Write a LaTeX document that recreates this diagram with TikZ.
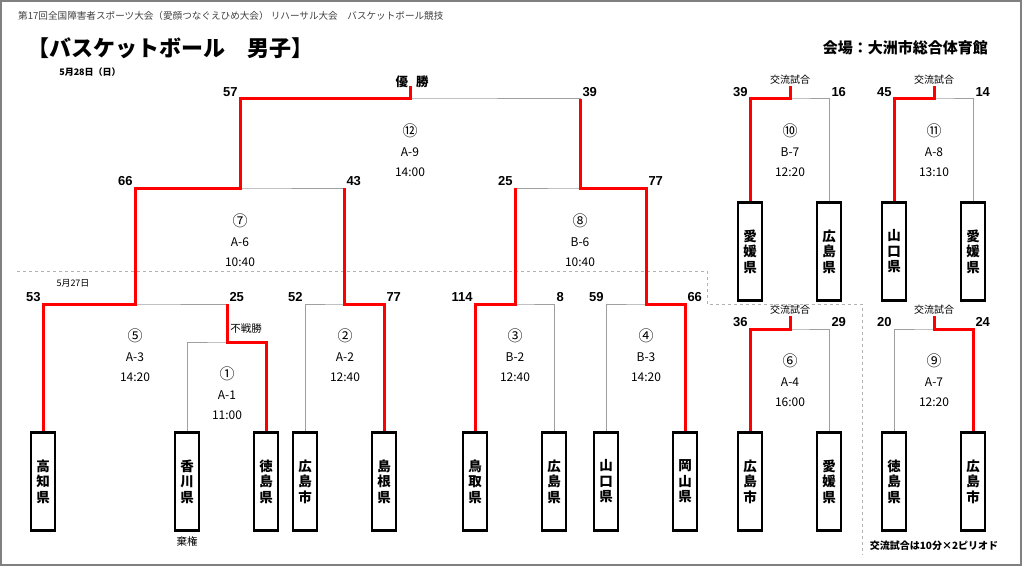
\documentclass[tikz,border=0pt]{standalone}
\usepackage{fontspec}
\setmainfont{Noto Sans CJK JP}
\newfontfamily\numfont{Liberation Sans}
\usetikzlibrary{positioning}
\newcommand\gno[1]{{\fontsize{15}{20}\selectfont #1}}
\tikzset{
  team/.style={draw, line width=2.5pt, fill=white, minimum width=24pt, minimum height=98pt, inner sep=0pt, align=center, font=\bfseries\fontsize{13.5}{15.5}\selectfont},
  lose/.style={draw=gray!75, line width=1pt},
  win/.style={draw=red, line width=3pt},
  score/.style={font=\numfont\bfseries\fontsize{13}{13}\selectfont, inner sep=2pt},
  game/.style={align=center, font=\fontsize{12}{20}\selectfont},
  note/.style={font=\fontsize{10}{10}\selectfont, inner sep=1pt},
  dayline/.style={draw=gray!60, dashed, line width=0.8pt}
}
\begin{document}
\begin{tikzpicture}[x=1pt,y=-1pt]
\useasboundingbox (0,0) rectangle (1024,567);
\draw[gray, line width=1.5pt] (1,1) rectangle (1021,565);
\node[anchor=west, inner sep=0pt, text=black!75, font=\fontsize{9.6}{10}\selectfont] (head) at (18,16) {第17回全国障害者スポーツ大会（愛顔つなぐえひめ大会） リハーサル大会　バスケットボール競技};
\node[anchor=west, inner sep=0pt, font=\bfseries\fontsize{22}{22}\selectfont] (title) at (27,48) {【バスケットボール　男子】};
\node[anchor=east, inner sep=0pt, font=\bfseries\fontsize{15}{15}\selectfont] (venue) at (988,48) {会場：大洲市総合体育館};
\node[note, font=\bfseries\fontsize{9}{9}\selectfont] (day28) at (90,72) {5月28日（日）};
\node[note, font=\fontsize{9}{9}\selectfont] (day27) at (73,283) {5月27日};
\draw[dayline] (17,271) -- (707,271) -- (707,304) -- (862,304) -- (862,555);

\node[team] (t1) at (43,481.5) {高\\知\\県};
\node[team] (t2) at (187,481.5) {香\\川\\県};
\node[team] (t3) at (266,481.5) {徳\\島\\県};
\node[team] (t4) at (305,481.5) {広\\島\\市};
\node[team] (t5) at (384,481.5) {島\\根\\県};
\node[team] (t6) at (475,481.5) {鳥\\取\\県};
\node[team] (t7) at (554,481.5) {広\\島\\県};
\node[team] (t8) at (606,481.5) {山\\口\\県};
\node[team] (t9) at (685,481.5) {岡\\山\\県};
\node[team] (t10) at (750,481.5) {広\\島\\市};
\node[team] (t11) at (829,481.5) {愛\\媛\\県};
\node[team] (t12) at (894,481.5) {徳\\島\\県};
\node[team] (t13) at (973,481.5) {広\\島\\市};
\node[team] (t14) at (750,251.5) {愛\\媛\\県};
\node[team] (t15) at (829,251.5) {広\\島\\県};
\node[team] (t16) at (894,251.5) {山\\口\\県};
\node[team] (t17) at (973,251.5) {愛\\媛\\県};

\coordinate (g1) at (227,342);
\coordinate (g2) at (344,304);
\coordinate (g3) at (515,304);
\coordinate (g4) at (646,304);
\coordinate (g5) at (135,304);
\coordinate (g6) at (790,329);
\coordinate (g7) at (240,188);
\coordinate (g8) at (580,188);
\coordinate (g9) at (934,329);
\coordinate (g10) at (790,99);
\coordinate (g11) at (934,99);
\coordinate (g12) at (410,99);
\coordinate (c6) at (790,316);
\coordinate (c9) at (934,316);
\coordinate (c10) at (790,86);
\coordinate (c11) at (934,86);
\coordinate (c12) at (410,86);

\draw[lose] (t2.north) |- (g1) -| (t3.north);
\draw[lose] (t1.north) |- node[score,pos=.5,above left]{53} (g5) -| node[score,pos=.5,above right]{25} (g1);
\draw[lose] (t4.north) |- node[score,pos=.5,above left]{52} (g2) -| node[score,pos=.5,above right]{77} (t5.north);
\draw[lose] (t6.north) |- node[score,pos=.5,above left]{114} (g3) -| node[score,pos=.5,above right]{8} (t7.north);
\draw[lose] (t8.north) |- node[score,pos=.5,above left]{59} (g4) -| node[score,pos=.5,above right]{66} (t9.north);
\draw[lose] (g5) |- node[score,pos=.5,above left]{66} (g7) -| node[score,pos=.5,above right]{43} (g2);
\draw[lose] (g3) |- node[score,pos=.5,above left]{25} (g8) -| node[score,pos=.5,above right]{77} (g4);
\draw[lose] (g7) |- node[score,pos=.5,above left]{57} (g12) -| node[score,pos=.5,above right]{39} (g8);
\draw[lose] (t14.north) |- node[score,pos=.5,above left]{39} (g10) -| node[score,pos=.5,above right]{16} (t15.north);
\draw[lose] (t16.north) |- node[score,pos=.5,above left]{45} (g11) -| node[score,pos=.5,above right]{14} (t17.north);
\draw[lose] (t10.north) |- node[score,pos=.5,above left]{36} (g6) -| node[score,pos=.5,above right]{29} (t11.north);
\draw[lose] (t12.north) |- node[score,pos=.5,above left]{20} (g9) -| node[score,pos=.5,above right]{24} (t13.north);

\draw[win] (t3.north) |- (g1) -- (g1 |- g5);
\draw[win] (t1.north) |- (g5) |- (g7) |- (g12) -- (c12);
\draw[win] (t5.north) |- (g2) -- (g2 |- g7);
\draw[win] (t6.north) |- (g3) -- (g3 |- g8);
\draw[win] (t9.north) |- (g4) |- (g8) -- (g8 |- g12);
\draw[win] (t14.north) |- (g10) -- (c10);
\draw[win] (t16.north) |- (g11) -- (c11);
\draw[win] (t10.north) |- (g6) -- (c6);
\draw[win] (t13.north) |- (g9) -- (c9);

\node[font=\bfseries\fontsize{12.5}{12.5}\selectfont] (champ) at (412,82) {優\hspace{8pt}勝};
\node[note, above] (x10) at (c10) {交流試合};
\node[note, above] (x11) at (c11) {交流試合};
\node[note, above] (x6) at (c6) {交流試合};
\node[note, above] (x9) at (c9) {交流試合};
\node[note, font=\fontsize{10.5}{10.5}\selectfont] (forfeit) at (246,329) {不戦勝};
\node[note, font=\fontsize{10.5}{10.5}\selectfont, below=4pt of t2] (abst) {棄権};
\node[note, font=\bfseries\fontsize{10}{10}\selectfont] (rule) at (934,546) {交流試合は10分×2ピリオド};

\node[game] (m12) at (410,150) {\gno{⑫}\\A-9\\14:00};
\node[game] (m7) at (240,240) {\gno{⑦}\\A-6\\10:40};
\node[game] (m8) at (580,240) {\gno{⑧}\\B-6\\10:40};
\node[game] (m5) at (135,355) {\gno{⑤}\\A-3\\14:20};
\node[game] (m1) at (227,393) {\gno{①}\\A-1\\11:00};
\node[game] (m2) at (345,355) {\gno{②}\\A-2\\12:40};
\node[game] (m3) at (515,355) {\gno{③}\\B-2\\12:40};
\node[game] (m4) at (646,355) {\gno{④}\\B-3\\14:20};
\node[game] (m10) at (790,150) {\gno{⑩}\\B-7\\12:20};
\node[game] (m11) at (934,150) {\gno{⑪}\\A-8\\13:10};
\node[game] (m6) at (790,380) {\gno{⑥}\\A-4\\16:00};
\node[game] (m9) at (934,380) {\gno{⑨}\\A-7\\12:20};
\end{tikzpicture}
\end{document}
